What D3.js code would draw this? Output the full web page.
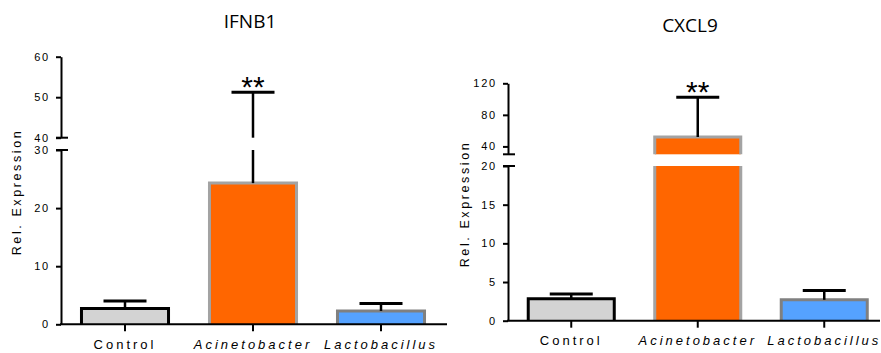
<!DOCTYPE html>
<html>
<head>
<meta charset="utf-8">
<script src="https://cdn.jsdelivr.net/npm/d3@7"></script>
<style>
  body { margin: 0; background: #fff; }
  svg { display: block; }
  .tick text { font-family: "Liberation Sans", Arial, sans-serif; }
</style>
</head>
<body>
<svg id="chart" width="881" height="353"></svg>
<script>
// Data (bar = mean, err = length of upper error bar)
const categories = ['Control', 'Acinetobacter', 'Lactobacillus'];
const ifnb1Mean = [2.7, 24.3, 2.3];
const ifnb1Err = [1.3, 26.9, 1.3];
const cxcl9Mean = [2.85, 51.9, 2.7];
const cxcl9Err = [0.6, 50.4, 1.2];

const ifnb1LowDomain = [0, 30];
const ifnb1HighDomain = [40, 60];
const ifnb1LowTicks = [0, 10, 20, 30];
const ifnb1HighTicks = [40, 50, 60];

const cxcl9LowDomain = [0, 20];
const cxcl9HighDomain = [30, 120];
const cxcl9LowTicks = [0, 5, 10, 15, 20];
const cxcl9HighTicks = [40, 80, 120];

const fills = ['#d3d3d3', '#ff6600', '#55a2ff'];
const strokes = ['#000000', '#a3a3a3', '#808080'];

const svg = d3.select('#chart');

function drawPanel(p) {
  const g = svg.append('g');

  // Scales: one for each side of the axis break
  const yLow = d3.scaleLinear().domain(p.lowDomain).range(p.lowRange);
  const yHigh = d3.scaleLinear().domain(p.highDomain).range(p.highRange);
  const x = d3.scaleBand()
    .domain(categories)
    .range([p.x0, p.x1])
    .paddingInner(0.32)
    .paddingOuter(0.16);

  const lowMax = p.lowDomain[1];
  const highMin = p.highDomain[0];

  // pixel pieces of a value interval, split over the break
  function pieces(a, b) {
    const out = [];
    if (a < lowMax) out.push({ y1: yLow(a), y2: yLow(Math.min(b, lowMax)), cutTop: b > lowMax });
    if (b > highMin) out.push({ y1: yHigh(Math.max(a, highMin)), y2: yHigh(b), cutTop: false });
    return out;
  }

  // Bars
  categories.forEach((c, i) => {
    const x0 = x(c), w = x.bandwidth();
    pieces(0, p.mean[i]).forEach(pc => {
      g.append('rect')
        .attr('x', x0).attr('y', pc.y2)
        .attr('width', w).attr('height', pc.y1 - pc.y2)
        .attr('fill', fills[i]);
      let d;
      if (pc.cutTop) {
        d = `M${x0},${pc.y1}V${pc.y2}M${x0 + w},${pc.y1}V${pc.y2}`;
      } else {
        d = `M${x0},${pc.y1}V${pc.y2}H${x0 + w}V${pc.y1}`;
      }
      g.append('path')
        .attr('d', d)
        .attr('fill', 'none')
        .attr('stroke', strokes[i])
        .attr('stroke-width', 3);
    });
  });

  // Error bars
  categories.forEach((c, i) => {
    const cx = x(c) + x.bandwidth() / 2;
    const top = p.mean[i] + p.err[i];
    pieces(p.mean[i], top).forEach(pc => {
      g.append('line')
        .attr('x1', cx).attr('x2', cx)
        .attr('y1', pc.y1).attr('y2', pc.y2)
        .attr('stroke', '#000').attr('stroke-width', 2.5);
    });
    const yt = top > highMin ? yHigh(top) : yLow(top);
    g.append('line')
      .attr('x1', cx - 21.5).attr('x2', cx + 21.5)
      .attr('y1', yt).attr('y2', yt)
      .attr('stroke', '#000').attr('stroke-width', 3);
    if (p.stars[i]) {
      g.append('text')
        .attr('x', cx).attr('y', yt + 5)
        .attr('text-anchor', 'middle')
        .attr('font-family', 'Liberation Sans, Arial, sans-serif')
        .attr('font-size', 30)
        .text(p.stars[i]);
    }
  });

  // Y axes
  const styleAxis = sel => {
    sel.select('.domain').attr('stroke-width', 2);
    sel.selectAll('.tick line').attr('stroke-width', 2);
    sel.selectAll('.tick text')
      .attr('font-size', 11)
      .attr('letter-spacing', 1.8)
      .attr('fill', '#000');
  };

  g.append('g')
    .attr('transform', `translate(${p.x0},0)`)
    .call(d3.axisLeft(yLow).tickValues(p.lowTicks).tickSize(5).tickSizeOuter(0).tickPadding(6))
    .call(styleAxis);

  g.append('g')
    .attr('transform', `translate(${p.x0},0)`)
    .call(d3.axisLeft(yHigh).tickValues(p.highTicks).tickSize(5).tickSizeOuter(0).tickPadding(6))
    .call(styleAxis);

  // Break marks
  [yLow(lowMax), yHigh(highMin)].forEach(yb => {
    g.append('line')
      .attr('x1', p.x0 - 5).attr('x2', p.x0 + 7)
      .attr('y1', yb).attr('y2', yb)
      .attr('stroke', '#000').attr('stroke-width', 2);
  });

  // X axis
  const xAxis = g.append('g')
    .attr('transform', `translate(0,${yLow(0)})`)
    .call(d3.axisBottom(x).tickSize(7).tickSizeOuter(0).tickPadding(8));
  xAxis.select('.domain').remove();
  xAxis.selectAll('.tick line').attr('stroke-width', 2);
  xAxis.selectAll('.tick text')
    .attr('font-size', 13)
    .attr('letter-spacing', 3)
    .attr('fill', '#000')
    .attr('font-style', d => d === 'Control' ? 'normal' : 'italic');
  g.append('line')
    .attr('x1', p.x0 - 1).attr('x2', p.xEnd)
    .attr('y1', yLow(0)).attr('y2', yLow(0))
    .attr('stroke', '#000').attr('stroke-width', 2);

  // Y label
  g.append('text')
    .attr('transform', `translate(${p.labelX},${p.labelY}) rotate(-90)`)
    .attr('text-anchor', 'middle')
    .attr('font-family', 'Liberation Sans, Arial, sans-serif')
    .attr('font-size', 12.5)
    .attr('letter-spacing', 2.6)
    .text('Rel. Expression');

  // Title
  g.append('text')
    .attr('x', p.titleX).attr('y', p.titleY)
    .attr('text-anchor', 'middle')
    .attr('font-family', 'Open Sans, sans-serif')
    .attr('font-size', 19)
    .text(p.title);
}

drawPanel({
  title: 'IFNB1', titleX: 250, titleY: 28,
  mean: ifnb1Mean, err: ifnb1Err, stars: ['', '**', ''],
  lowDomain: ifnb1LowDomain, lowRange: [324.3, 150],
  highDomain: ifnb1HighDomain, highRange: [137.7, 56.7],
  lowTicks: ifnb1LowTicks, highTicks: ifnb1HighTicks,
  x0: 61, x1: 445, xEnd: 447,
  labelX: 21, labelY: 192
});

drawPanel({
  title: 'CXCL9', titleX: 690, titleY: 32,
  mean: cxcl9Mean, err: cxcl9Err, stars: ['', '**', ''],
  lowDomain: cxcl9LowDomain, lowRange: [320.7, 166],
  highDomain: cxcl9HighDomain, highRange: [154.3, 83.3],
  lowTicks: cxcl9LowTicks, highTicks: cxcl9HighTicks,
  x0: 508, x1: 887.5, xEnd: 880,
  labelX: 469, labelY: 204
});
</script>
</body>
</html>
